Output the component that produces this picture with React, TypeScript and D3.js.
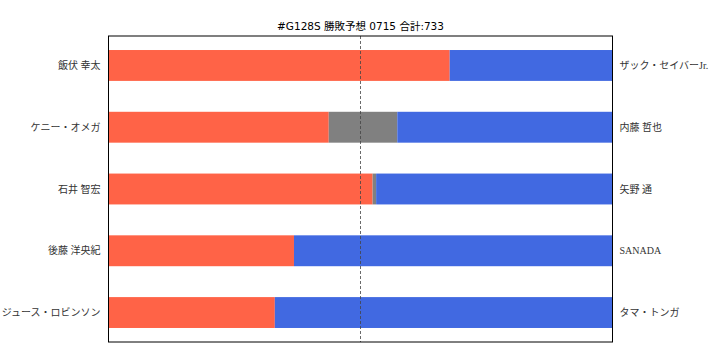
import React from "react";
import * as d3 from "d3";

const title = "#G128S 勝敗予想 0715 合計:733";
const leftNames = ["飯伏 幸太", "ケニー・オメガ", "石井 智宏", "後藤 洋央紀", "ジュース・ロビンソン"];
const rightNames = ["ザック・セイバーJr.", "内藤 哲也", "矢野 通", "SANADA", "タマ・トンガ"];
const leftWin = [67.7, 43.7, 52.4, 36.8, 33.0];
const draws = [0, 13.6, 0.7, 0, 0];
const rightWin = [32.3, 42.7, 46.9, 63.2, 67.0];

const colors = { left: "#FF6347", draw: "#808080", right: "#4169E1" };

export default function App() {
  const W = 720, H = 360;
  const x0 = 108.5, x1 = 612.5, y0 = 36, y1 = 342;
  const x = d3.scaleLinear().domain([0, 100]).range([x0, x1]);
  const idx = leftNames.map((_, i) => String(i));
  const y = d3.scaleBand().domain(idx).range([y0, y1]).paddingInner(0.5).paddingOuter(0.227);
  const bw = y.bandwidth();
  const textFont = "'Liberation Serif', 'Noto Sans CJK JP', serif";

  return (
    <svg width={W} height={H} style={{ position: "absolute", left: 0, top: 0, background: "#fff" }}>
      <text x={(x0 + x1) / 2} y={30} textAnchor="middle" fontSize={10.5}
        fontFamily="'DejaVu Sans', 'Noto Sans CJK JP', sans-serif" fill="#000">{title}</text>
      {idx.map((k, i) => {
        const yy = y(k)!;
        const a = leftWin[i], d = draws[i], b = rightWin[i];
        return (
          <g key={k}>
            <rect x={x(0)} y={yy} width={x(a) - x(0)} height={bw} fill={colors.left} />
            {d > 0 && <rect x={x(a)} y={yy} width={x(a + d) - x(a)} height={bw} fill={colors.draw} />}
            <rect x={x(a + d)} y={yy} width={x(a + d + b) - x(a + d)} height={bw} fill={colors.right} />
            <text x={x0 - 8} y={yy + bw / 2} dy="0.35em" textAnchor="end" fontSize={10}
              fontFamily={textFont} fill="#333">{leftNames[i]}</text>
            <text x={x1 + 7} y={yy + bw / 2} dy="0.35em" textAnchor="start" fontSize={10}
              fontFamily={textFont} fill="#333">{rightNames[i]}</text>
          </g>
        );
      })}
      <line x1={x(50)} x2={x(50)} y1={y0} y2={y1} stroke="#444" strokeWidth={0.8} strokeDasharray="3,2" />
      <rect x={x0} y={y0} width={x1 - x0} height={y1 - y0} fill="none" stroke="#000" strokeWidth={1} />
    </svg>
  );
}
